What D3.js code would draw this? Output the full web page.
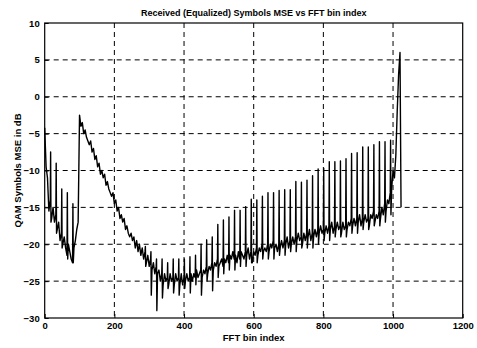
<!DOCTYPE html>
<html>
<head>
<meta charset="utf-8">
<script src="https://cdn.jsdelivr.net/npm/d3@7"></script>
<style>
	html, body { margin: 0; padding: 0; background: #fff; }
	svg { display: block; font-family: 'Liberation Sans', Arial, sans-serif; }
</style>
</head>
<body>
<div id="chart"></div>
<script>
// baseline trace, one value every 4 FFT bins
const baseBins = d3.range(0, 1024, 4).concat([1023])
const baseMse = [
	-4.2, -9.5, -11, -15.5, -14, -16.5, -15, -17, -16, -18, -17, -19.5, -18.5, -20, -19, -20.5,
	-21.5, -20, -21, -22, -22.5, -20.5, -19.5, -18, -17,
	-2.5, -4, -3.5, -5, -4.5, -5.5, -6, -6.5, -6, -7.5, -7, -8.5, -8, -9.5, -9, -10.5,
	-10, -11, -10.5, -12, -11.5, -12.5, -13, -13.5, -13, -14.5, -14, -15.5, -15, -16.5, -16, -17,
	-16.5, -18, -17.5, -18.5, -19, -18.5, -19.5, -19, -20.5, -19.5, -21, -20, -21.5, -20.5, -22, -21,
	-22.5, -21.5, -23, -22, -23.5, -22.5, -24, -23, -24, -23.5,
	-25, -24, -25.5, -24, -25, -24.5, -25.5, -24, -25, -24.5, -25.5, -24, -25, -24.5, -25.5, -24,
	-25.5, -24.5, -25, -24, -25, -24.5, -24, -25, -24, -24.5, -23.5, -24.5, -24, -23.5, -24.5, -23.5, -24,
	-23, -24, -23, -23.5, -22.5, -23.5, -22.5, -23, -22, -23, -22.5, -22, -23, -22, -22.5, -21.5,
	-22.5, -21.5, -22, -21, -22, -21.5, -22.5, -21, -22, -21, -21.5, -22, -21, -21.5, -20.5, -22,
	-21, -22.5, -21,
	-21.5, -20.5, -21.5, -20.5, -21, -20, -21, -20.5, -21, -20, -21, -20, -20.5, -19.5, -20.5, -20,
	-21, -20, -20.5, -19.5, -20.5, -19.5, -20, -19, -20.5, -19.5, -20, -19, -20, -19, -19.5, -18.5,
	-19.5, -19, -20, -18.5, -19.5, -18.5, -19, -18, -19.5, -18.5, -19, -18, -19, -18, -18.5, -17.5,
	-18.5, -18,
	-18.5, -17.5, -18.5, -17.5, -18, -17, -18.5, -17.5, -18, -17, -18, -17.5, -18.5, -17, -18, -17.5,
	-18, -17, -17.5, -16.5, -17.5, -16.5, -17.5, -16.5, -17, -16, -17.5, -16.5, -17, -16, -17, -16.5,
	-17.5, -16, -16.5, -15.5, -17, -16, -16.5, -15.5, -16.5, -15, -16, -14.5, -15.5, -14, -14.5, -13,
	-12.5, -10, -11, -8, -2, 3, 6, -15
]

// periodic pilot spikes every 16 bins: peak and dip values
const spikeBins = [16, 32, 48, 64, 80].concat(d3.range(288, 1000, 16))
const spikeTop = [
	-7.5, -9, -12.5, -13, -14.5,
	-20.3, -21, -22, -22, -22.5, -22, -22, -22, -21.7, -21.5, -20, -19.4, -19, -17.3, -16.7,
	-16.3, -15.4, -15.4, -14.9, -13.9, -14, -13.5, -13, -13, -12.7, -12.6, -12.6, -11.5, -11.6,
	-11.3, -10.7, -9.8, -9.7, -8.8, -8.8, -8.7, -8.4, -7.7, -7.6, -6.8, -6.8, -6.5, -6.1, -6.1, -5.9
]
const spikeLow = [
	-17, -18.5, -20.5, -22, -22.5,
	-23, -26.9, -29, -27.3, -26, -26.6, -26.9, -26, -26.6, -25.5, -26.9, -25, -26.3, -24.5, -24,
	-23.5, -23.5, -23, -23, -22.5, -22.5, -22, -22, -22, -21.5, -21.5, -21, -21, -20.5,
	-20.5, -20.5, -20, -19.5, -19.5, -19, -19, -19, -18.5, -18.5, -18, -18, -17.5, -17.5, -17, -16
]

const xTicks = [0, 200, 400, 600, 800, 1000, 1200]
const yTicks = [-30, -25, -20, -15, -10, -5, 0, 5, 10]

const W = 477, H = 348
const margin = { top: 23, right: 14.3, bottom: 30, left: 44.7 }
const iw = W - margin.left - margin.right
const ih = H - margin.top - margin.bottom

// merge baseline and spikes into one trace
let trace = baseBins.map((b, i) => ({ bin: b, v: baseMse[i], o: 0 }))
spikeBins.forEach((b, i) => {
	trace.push({ bin: b + 1, v: spikeTop[i], o: 1 })
	trace.push({ bin: b + 2, v: spikeLow[i], o: 2 })
})
trace.sort((a, b) => a.bin - b.bin || a.o - b.o)

const x = d3.scaleLinear().domain([0, 1200]).range([0, iw])
const y = d3.scaleLinear().domain([-30, 10]).range([ih, 0])

const svg = d3.select('#chart').append('svg').attr('width', W).attr('height', H)
const g = svg.append('g').attr('transform', 'translate(' + margin.left + ',' + margin.top + ')')

// dashed grid
g.append('g')
	.selectAll('line')
	.data(xTicks.slice(1, -1))
	.enter()
	.append('line')
	.attr('x1', (d) => x(d))
	.attr('x2', (d) => x(d))
	.attr('y1', 0)
	.attr('y2', ih)
	.attr('stroke', '#000')
	.attr('stroke-dasharray', '5,4')
g.append('g')
	.selectAll('line')
	.data(yTicks.slice(1, -1))
	.enter()
	.append('line')
	.attr('x1', 0)
	.attr('x2', iw)
	.attr('y1', (d) => y(d))
	.attr('y2', (d) => y(d))
	.attr('stroke', '#000')
	.attr('stroke-dasharray', '5,4')

// the trace
const line = d3
	.line()
	.x((d) => x(d.bin))
	.y((d) => y(d.v))
g.append('path')
	.datum(trace)
	.attr('d', line)
	.attr('fill', 'none')
	.attr('stroke', '#000')
	.attr('stroke-width', 1.4)
	.attr('stroke-linejoin', 'round')

// axes (ticks inward), box
const xAxis = g
	.append('g')
	.attr('transform', 'translate(0,' + ih + ')')
	.call(d3.axisBottom(x).tickValues(xTicks).tickFormat(d3.format('d')).tickSizeInner(-4).tickSizeOuter(0).tickPadding(4))
const yAxis = g.append('g').call(d3.axisLeft(y).tickValues(yTicks).tickSizeInner(-4).tickSizeOuter(0).tickPadding(5))
;[xAxis, yAxis].forEach((a) => {
	a.select('.domain').remove()
	a.selectAll('text').attr('font-size', 9.5).attr('font-weight', 'bold').attr('fill', '#000')
	a.selectAll('line').attr('stroke', '#000')
})
g.append('rect').attr('width', iw).attr('height', ih).attr('fill', 'none').attr('stroke', '#000').attr('stroke-width', 1.2)

// labels
svg.append('text')
	.attr('x', margin.left + iw / 2)
	.attr('y', 16)
	.attr('text-anchor', 'middle')
	.attr('font-size', 9)
	.attr('font-weight', 'bold')
	.text('Received (Equalized) Symbols MSE vs FFT bin index')
svg.append('text')
	.attr('x', margin.left + iw / 2)
	.attr('y', 341)
	.attr('text-anchor', 'middle')
	.attr('font-size', 9.5)
	.attr('font-weight', 'bold')
	.text('FFT bin index')
svg.append('text')
	.attr('transform', 'translate(21,' + (margin.top + ih / 2) + ') rotate(-90)')
	.attr('text-anchor', 'middle')
	.attr('font-size', 9.5)
	.attr('font-weight', 'bold')
	.text('QAM Symbols MSE in dB')
</script>
</body>
</html>
